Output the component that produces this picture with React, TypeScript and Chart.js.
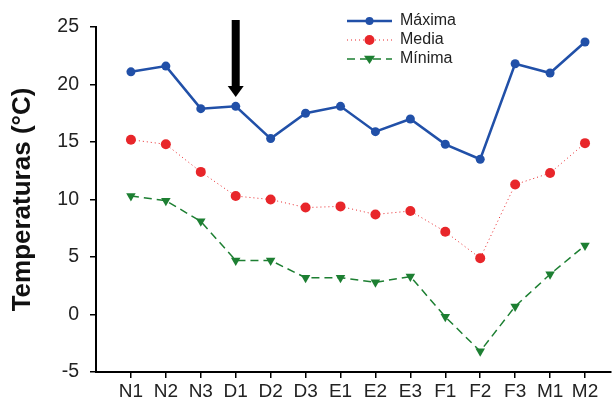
import React, { useEffect, useRef } from "react";
import { Chart, registerables } from "chart.js";

Chart.register(...registerables);

const categories = ["N1", "N2", "N3", "D1", "D2", "D3", "E1", "E2", "E3", "F1", "F2", "F3", "M1", "M2"];
const maxima = [21.1, 21.6, 17.9, 18.1, 15.3, 17.5, 18.1, 15.9, 17.0, 14.8, 13.5, 21.8, 21.0, 23.7];
const media = [15.2, 14.8, 12.4, 10.3, 10.0, 9.3, 9.4, 8.7, 9.0, 7.2, 4.9, 11.3, 12.3, 14.9];
const minima = [10.3, 9.9, 8.1, 4.7, 4.7, 3.2, 3.2, 2.8, 3.3, -0.2, -3.2, 0.7, 3.5, 6.0];
const yTicks = [-5, 0, 5, 10, 15, 20, 25];
const seriesNames = ["Máxima", "Media", "Mínima"];
const arrowCategory = "D1";

const BLUE = "#2150a8";
const RED = "#e8262a";
const GREEN = "#1d7f32";
const FONT = "'Liberation Sans', Arial, sans-serif";
const TEXT = "#222222";

const legendPlugin = {
  id: "customLegend",
  afterDraw(chart: any) {
    const ctx = chart.ctx;
    const items = [
      { label: seriesNames[0], color: BLUE, dash: [] as number[], width: 2.5, style: "circle", r: 4 },
      { label: seriesNames[1], color: RED, dash: [1, 3], width: 1, style: "circle", r: 5 },
      { label: seriesNames[2], color: GREEN, dash: [8, 5], width: 1.5, style: "triangle", r: 5.5 },
    ];
    const x0 = 347, x1 = 392, tx = 400;
    const ys = [21, 40, 59];
    ctx.save();
    items.forEach((it, i) => {
      const y = ys[i];
      ctx.strokeStyle = it.color;
      ctx.lineWidth = it.width;
      ctx.setLineDash(it.dash);
      ctx.beginPath();
      ctx.moveTo(x0, y);
      ctx.lineTo(x1, y);
      ctx.stroke();
      ctx.setLineDash([]);
      ctx.fillStyle = it.color;
      const cx = (x0 + x1) / 2;
      ctx.beginPath();
      if (it.style === "circle") {
        ctx.arc(cx, y, it.r, 0, Math.PI * 2);
      } else {
        ctx.moveTo(cx - it.r, y - it.r * 0.6);
        ctx.lineTo(cx + it.r, y - it.r * 0.6);
        ctx.lineTo(cx, y + it.r * 0.9);
        ctx.closePath();
      }
      ctx.fill();
      ctx.fillStyle = TEXT;
      ctx.font = `16px ${FONT}`;
      ctx.textBaseline = "middle";
      ctx.textAlign = "left";
      ctx.fillText(it.label, tx, y);
    });
    ctx.restore();
  },
};

const arrowPlugin = {
  id: "arrow",
  afterDraw(chart: any) {
    const ctx = chart.ctx;
    const x = chart.scales.x.getPixelForValue(categories.indexOf(arrowCategory));
    const top = 20, headStart = 86, tip = 97;
    ctx.save();
    ctx.fillStyle = "#000";
    ctx.fillRect(x - 4, top, 8, headStart - top + 1);
    ctx.beginPath();
    ctx.moveTo(x - 8, headStart);
    ctx.lineTo(x + 8, headStart);
    ctx.lineTo(x, tip);
    ctx.closePath();
    ctx.fill();
    ctx.restore();
  },
};

export default function App() {
  const ref = useRef<HTMLCanvasElement>(null);
  useEffect(() => {
    const chart = new Chart(ref.current!, {
      type: "line",
      data: {
        datasets: [
          {
            label: seriesNames[0],
            data: maxima.map((y, i) => ({ x: i, y })),
            borderColor: BLUE,
            backgroundColor: BLUE,
            borderWidth: 2.5,
            pointRadius: 4.5,
            pointStyle: "circle",
            pointBorderWidth: 0,
            tension: 0,
          },
          {
            label: seriesNames[1],
            data: media.map((y, i) => ({ x: i, y })),
            borderColor: RED,
            backgroundColor: RED,
            borderWidth: 1,
            borderDash: [1, 3],
            pointRadius: 5,
            pointStyle: "circle",
            pointBorderWidth: 0,
            tension: 0,
          },
          {
            label: seriesNames[2],
            data: minima.map((y, i) => ({ x: i, y })),
            borderColor: GREEN,
            backgroundColor: GREEN,
            borderWidth: 1.5,
            borderDash: [8, 5],
            pointRadius: 5.5,
            pointStyle: "triangle",
            rotation: 180,
            pointBorderWidth: 0,
            tension: 0,
          },
        ],
      },
      options: {
        animation: false,
        responsive: false,
        maintainAspectRatio: false,
        layout: { padding: { top: 27, right: 0, left: 0, bottom: 0 } },
        plugins: { legend: { display: false }, tooltip: { enabled: false } },
        scales: {
          x: {
            type: "linear",
            min: -1,
            max: 13.73,
            afterBuildTicks: (scale: any) => {
              scale.ticks = categories.map((_, i) => ({ value: i }));
            },
            afterFit: (scale: any) => {
              scale.height = 28;
            },
            ticks: {
              autoSkip: false,
              maxRotation: 0,
              color: TEXT,
              font: { family: FONT, size: 19 },
              padding: 2,
              callback: (v: any) => categories[v as number] ?? "",
            },
            grid: { display: true, drawOnChartArea: false, drawTicks: true, tickLength: 6, color: "#000", lineWidth: 1.5 },
            border: { display: true, color: "#000", width: 2 },
          },
          y: {
            min: -5,
            max: 25,
            afterBuildTicks: (scale: any) => {
              scale.ticks = yTicks.map((v) => ({ value: v }));
            },
            afterFit: (scale: any) => {
              scale.width = 96;
            },
            ticks: {
              color: TEXT,
              font: { family: FONT, size: 19.5 },
              padding: 11,
            },
            title: {
              display: true,
              text: "Temperaturas (°C)",
              color: "#111",
              font: { family: FONT, size: 26, weight: "bold" },
              padding: { top: 7, bottom: 0 },
            },
            grid: { display: true, drawOnChartArea: false, drawTicks: true, tickLength: 6, color: "#000", lineWidth: 1.5 },
            border: { display: true, color: "#000", width: 2 },
          },
        },
      },
      plugins: [legendPlugin, arrowPlugin],
    } as any);
    return () => chart.destroy();
  }, []);
  return (
    <div style={{ position: "fixed", left: 0, top: 0, width: 616, height: 400, background: "#fff" }}>
      <canvas ref={ref} width={616} height={400} style={{ width: 616, height: 400 }} />
    </div>
  );
}
